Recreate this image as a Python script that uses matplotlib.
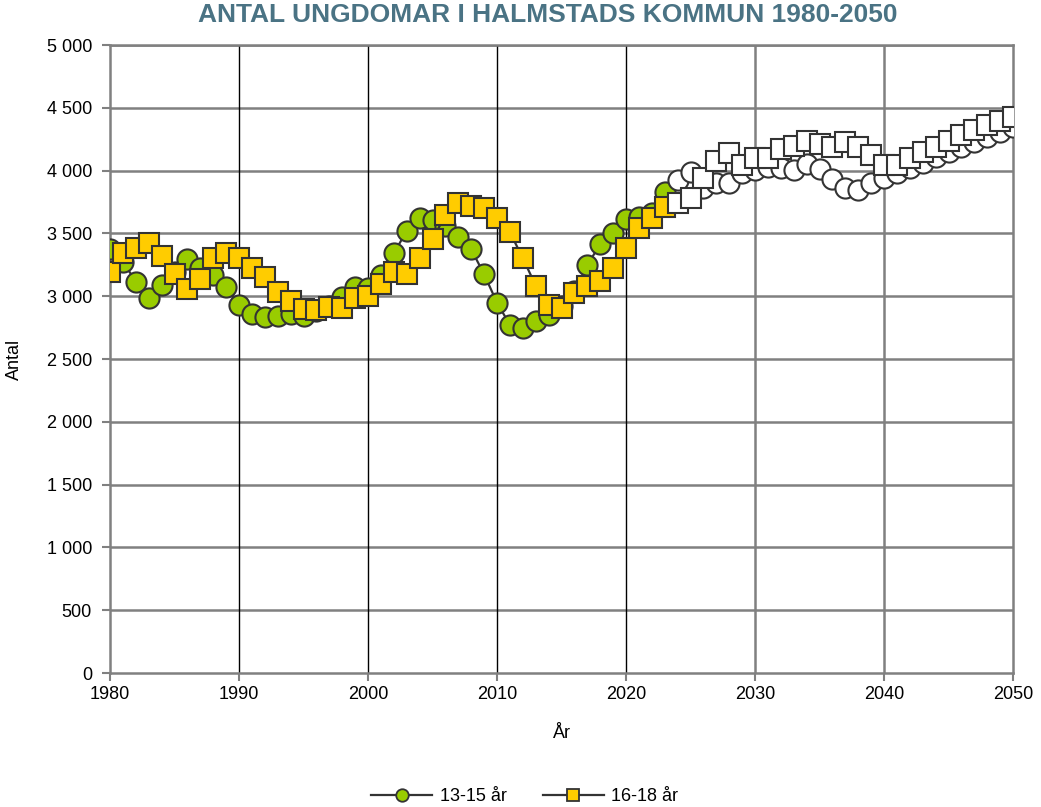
import numpy as np
import matplotlib.pyplot as plt
from matplotlib.ticker import FuncFormatter

plt.rcParams['font.family'] = ['Liberation Sans', 'DejaVu Sans']

years = np.arange(1980, 2051)
hist_end = 2023  # last year with observed values, later years are prognosis

age_13_15 = [3376, 3275, 3116, 2988, 3089, 3195, 3294, 3222, 3169, 3076,
             2930, 2860, 2837, 2840, 2858, 2840, 2880, 2920, 2995, 3070,
             3063, 3169, 3341, 3522, 3620, 3607, 3560, 3475, 3373, 3174,
             2948, 2771, 2744, 2803, 2850, 2920, 3040, 3248, 3416, 3501,
             3612, 3630, 3665, 3832, 3925, 3986, 3859, 3899, 3899, 3978,
             4005, 4031, 4018, 4005, 4050, 4010, 3935, 3859, 3846, 3904,
             3939, 3984, 4018, 4063, 4111, 4151, 4191, 4230, 4270, 4310,
             4345]
age_16_18 = [3190, 3341, 3381, 3426, 3320, 3174, 3057, 3134, 3302, 3341,
             3302, 3227, 3155, 3036, 2964, 2898, 2890, 2911, 2908, 2983,
             3001, 3097, 3195, 3177, 3302, 3453, 3646, 3742, 3721, 3705,
             3620, 3509, 3302, 3084, 2930, 2908, 3023, 3081, 3121, 3222,
             3381, 3545, 3620, 3708, 3740, 3784, 3939, 4079, 4138, 4045,
             4098, 4098, 4172, 4198, 4238, 4212, 4191, 4230, 4191, 4124,
             4045, 4045, 4098, 4151, 4191, 4238, 4283, 4323, 4363, 4397,
             4429]

age_13_15 = np.array(age_13_15)
age_16_18 = np.array(age_16_18)
hist = years <= hist_end
prog = years > hist_end

fig = plt.figure(figsize=(10.41, 8.07), dpi=100)
ax = fig.add_axes([0.1057, 0.166, 0.8675, 0.7782])

edge = '#333333'
for vals, mk, col, ms, lab in [(age_13_15, 'o', '#99cc00', 14.5, '13-15 år'),
                                (age_16_18, 's', '#ffcc00', 14.5, '16-18 år')]:
    ax.plot(years, vals, color=edge, lw=1.6, zorder=3)
    ax.plot(years[hist], vals[hist], ls='none', marker=mk, ms=ms,
            mfc=col, mec=edge, mew=1.5, zorder=3)
    ax.plot(years[prog], vals[prog], ls='none', marker=mk, ms=ms,
            mfc='white', mec=edge, mew=1.5, zorder=3)
    # legend handle
    ax.plot([], [], color=edge, lw=1.6, marker=mk, ms=9, mfc=col,
            mec=edge, mew=1.3, label=lab)

ax.set_xlim(1980, 2050)
ax.set_ylim(0, 5000)
ax.set_xticks(range(1980, 2051, 10))
ax.set_yticks(range(0, 5001, 500))
ax.yaxis.set_major_formatter(FuncFormatter(lambda v, p: f'{int(v):,}'.replace(',', ' ')))

# grid: horizontal gray, vertical black for history decades, gray for prognosis
for v in range(500, 5001, 500):
    ax.axhline(v, color='#808080', lw=1.8, zorder=1)
for yr in range(1990, 2050, 10):
    c = 'black' if yr <= 2020 else '#808080'
    w = 1.0 if yr <= 2020 else 1.8
    ax.axvline(yr, color=c, lw=w, zorder=1)

for s in ax.spines.values():
    s.set_color('#808080')
    s.set_linewidth(1.8)
ax.tick_params(axis='both', labelsize=13, colors='#808080', labelcolor='black',
               length=6, width=1.5)
ax.tick_params(axis='y', pad=7)

ax.set_xlabel('År', fontsize=13, labelpad=16)
ax.set_ylabel('Antal', fontsize=13, labelpad=17)

fig.text(0.526, 0.981, 'ANTAL UNGDOMAR I HALMSTADS KOMMUN 1980-2050',
         ha='center', va='center', fontsize=19, fontweight='bold',
         color='#4a7384')

ax.legend(loc='center', bbox_to_anchor=(0.459, -0.197), ncol=2, frameon=False,
          fontsize=13, handlelength=3.4, columnspacing=2.0, handletextpad=0.4)

fig.savefig('out.png', dpi=100)
